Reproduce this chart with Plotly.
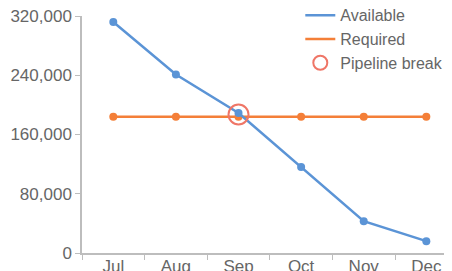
import plotly.graph_objects as go

months = ["Jul", "Aug", "Sep", "Oct", "Nov", "Dec"]
available = [312000, 241000, 189000, 116000, 43000, 16000]
required = [184000, 184000, 184000, 184000, 184000, 184000]
break_month = ["Sep"]
break_value = [187000]
y_ticks = [0, 80000, 160000, 240000, 320000]

BLUE = "#5b94d6"
ORANGE = "#f47f38"
RED = "#ef7667"
GREY = "#666666"
AXIS = "#bdbdbd"
FONT = "Liberation Sans, Arial, sans-serif"

fig = go.Figure()
fig.add_trace(go.Scatter(x=months, y=required, mode="lines+markers",
                         line=dict(color=ORANGE, width=2.5),
                         marker=dict(color=ORANGE, size=8), showlegend=False))
fig.add_trace(go.Scatter(x=months, y=available, mode="lines+markers",
                         line=dict(color=BLUE, width=2.5),
                         marker=dict(color=BLUE, size=8), showlegend=False))
fig.add_trace(go.Scatter(x=break_month, y=break_value, mode="markers",
                         marker=dict(symbol="circle-open", color=RED, size=20,
                                     line=dict(width=2, color=RED)),
                         name="Pipeline break", showlegend=False))
# legend entries
fig.add_trace(go.Scatter(x=[None], y=[None], mode="lines", name="Available",
                         line=dict(color=BLUE, width=2.5)))
fig.add_trace(go.Scatter(x=[None], y=[None], mode="lines", name="Required",
                         line=dict(color=ORANGE, width=2.5)))
fig.add_trace(go.Scatter(x=[None], y=[None], mode="markers", name="Pipeline break",
                         marker=dict(symbol="circle-open", color=RED, size=14,
                                     line=dict(width=2, color=RED))))

fig.update_layout(
    width=444, height=263,
    margin=dict(l=74, r=0, t=8, b=18, autoexpand=False),
    plot_bgcolor="white", paper_bgcolor="white",
    font=dict(family=FONT, size=17, color=GREY),
    legend=dict(x=0.59, y=1.075, xanchor="left", yanchor="top",
                bgcolor="rgba(0,0,0,0)",
                font=dict(family=FONT, size=16, color=GREY),
                tracegroupgap=0, itemwidth=30),
    xaxis=dict(type="category", categoryorder="array", categoryarray=months,
               range=[-0.5, 5.41], showline=True, linecolor=AXIS, linewidth=1.5,
               ticks="outside", tickson="boundaries", ticklen=5, tickcolor=AXIS,
               showgrid=False, zeroline=False, tickangle=0, automargin=False,
               ticklabelstandoff=-3, ticklabeloverflow="allow",
               tickfont=dict(family=FONT, size=17, color=GREY)),
    yaxis=dict(range=[0, 320000], tickvals=y_ticks, tickformat=",",
               showline=True, linecolor=AXIS, linewidth=1.5,
               ticks="outside", ticklen=5, tickcolor=AXIS,
               showgrid=False, zeroline=False, automargin=False,
               ticklabeloverflow="allow",
               tickfont=dict(family=FONT, size=17, color=GREY)),
)

fig.write_html("out.html")
